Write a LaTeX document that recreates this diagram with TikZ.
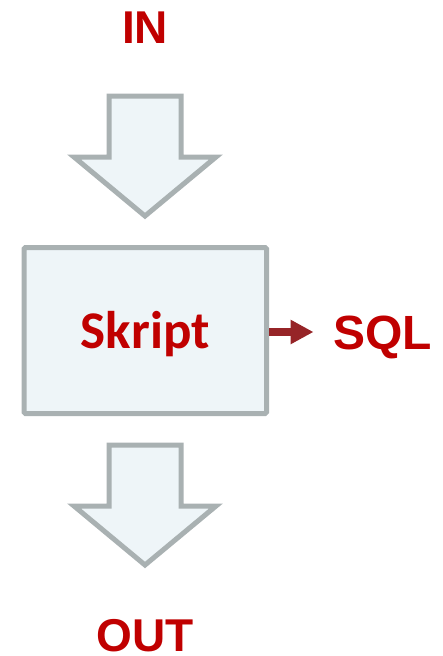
\documentclass[tikz,border=0pt]{standalone}
\usepackage{fontspec}
\setmainfont{Liberation Sans}
\newfontfamily\carlito{Carlito}
\usetikzlibrary{arrows.meta}
\definecolor{txtred}{HTML}{C00000}
\definecolor{arrred}{HTML}{962427}
\definecolor{bordgray}{HTML}{A9B1B2}
\definecolor{boxfill}{HTML}{EEF5F8}
\tikzset{
  lbl/.style={text=txtred, font=\fontsize{46}{46}\selectfont\bfseries, inner sep=0pt},
  bigarrow/.style={draw=bordgray, fill=boxfill, line width=5pt, line join=miter},
  scriptbox/.style={draw=bordgray, fill=boxfill, line width=5pt, rounded corners=1.5pt,
    minimum width=242.5pt, minimum height=166pt, inner sep=0pt,
    text=txtred, font=\carlito\fontsize{53}{53}\selectfont\bfseries,
    text height=46pt, text depth=11pt},
  smallarrow/.style={draw=arrred, line width=8pt, -{Triangle[length=23pt,width=23pt]}}
}
\begin{document}
\begin{tikzpicture}[x=1pt,y=-1pt]
\useasboundingbox (0,0) rectangle (443,656);
\node[lbl, anchor=base] (in) at (145,43.5) {IN};
\path[bigarrow] (109,96) -- (181,96) -- (181,157) -- (216,157) -- (145,216) -- (74,157) -- (109,157) -- cycle;
\node[scriptbox] (skript) at (145.25,330.5) {Skript};
\node[lbl, anchor=base west, font=\fontsize{48}{48}\selectfont\bfseries] (sql) at (333,349.5) {SQL};
\coordinate (tipend) at (313.5,332);
\draw[smallarrow] (skript.east |- tipend) -- (tipend);
\path[bigarrow] (109,445) -- (181,445) -- (181,506) -- (216,506) -- (145,565) -- (74,506) -- (109,506) -- cycle;
\node[lbl, anchor=base] (out) at (145,651) {OUT};
\end{tikzpicture}
\end{document}
